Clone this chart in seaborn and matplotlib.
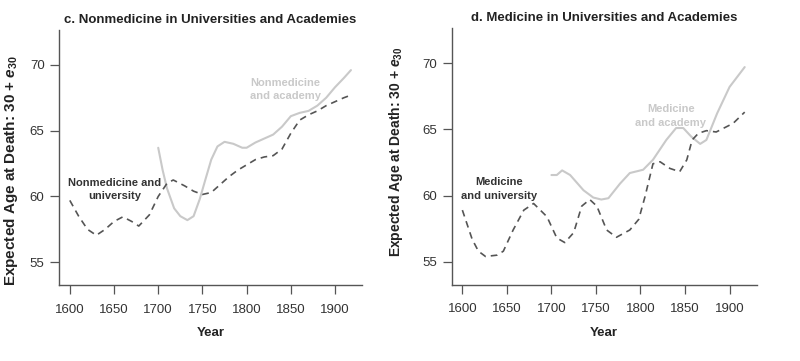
import seaborn as sns
import matplotlib.pyplot as plt
import pandas as pd

# panel c: nonmedicine
c_univ_year = [1600, 1610, 1620, 1630, 1640, 1650, 1660, 1670, 1678, 1690, 1700, 1710, 1717,
               1730, 1740, 1750, 1760, 1770, 1780, 1790, 1800, 1810, 1820, 1830, 1840, 1850,
               1860, 1870, 1880, 1890, 1900, 1910, 1918]
c_univ_age = [59.7, 58.5, 57.5, 57.05, 57.5, 58.1, 58.45, 58.1, 57.75, 58.6, 60.0, 61.0, 61.25,
              60.8, 60.4, 60.15, 60.3, 60.9, 61.5, 62.0, 62.4, 62.8, 63.0, 63.1, 63.6, 64.8,
              65.8, 66.2, 66.5, 66.9, 67.2, 67.5, 67.7]
c_acad_year = [1700, 1705, 1710, 1718, 1725, 1733, 1740, 1747, 1753, 1760, 1767, 1775, 1785,
               1795, 1800, 1810, 1820, 1830, 1840, 1850, 1860, 1870, 1880, 1890, 1900, 1910, 1918]
c_acad_age = [63.7, 62.0, 60.6, 59.1, 58.5, 58.2, 58.5, 59.8, 61.2, 62.8, 63.8, 64.15, 64.0,
              63.7, 63.7, 64.1, 64.4, 64.7, 65.3, 66.1, 66.35, 66.5, 66.9, 67.5, 68.3, 69.0, 69.6]

# panel d: medicine
d_univ_year = [1600, 1611, 1618, 1626, 1639, 1646, 1657, 1669, 1680, 1695, 1706, 1715, 1725,
               1734, 1743, 1751, 1762, 1773, 1788, 1798, 1805, 1814, 1822, 1833, 1844, 1852,
               1858, 1865, 1874, 1885, 1904, 1917]
d_univ_age = [58.9, 56.7, 55.8, 55.4, 55.5, 55.8, 57.4, 58.9, 59.4, 58.4, 56.8, 56.45, 57.2,
              59.2, 59.7, 59.2, 57.4, 56.85, 57.4, 58.2, 59.9, 62.4, 62.55, 62.05, 61.8, 62.7,
              64.2, 64.7, 64.9, 64.8, 65.45, 66.3]
d_acad_year = [1700, 1706, 1712, 1721, 1736, 1747, 1756, 1764, 1777, 1788, 1803, 1814, 1829,
               1840, 1848, 1857, 1867, 1874, 1886, 1900, 1917]
d_acad_age = [61.55, 61.55, 61.9, 61.55, 60.4, 59.85, 59.7, 59.8, 60.9, 61.7, 61.95, 62.7, 64.2,
              65.1, 65.1, 64.45, 63.9, 64.2, 66.2, 68.2, 69.7]

titles = ["c. Nonmedicine in Universities and Academies", "d. Medicine in Universities and Academies"]
univ_labels = ["Nonmedicine and\nuniversity", "Medicine\nand university"]
acad_labels = ["Nonmedicine\nand academy", "Medicine\nand academy"]
univ_label_pos = [(1651, 60.5), (1641, 60.5)]
acad_label_pos = [(1844, 68.1), (1834, 66.0)]

sns.set_style("ticks")
plt.rcParams['font.family'] = ['Liberation Sans', 'DejaVu Sans']
plt.rcParams['mathtext.fontset'] = 'custom'
plt.rcParams['mathtext.it'] = 'Liberation Sans:bold:italic'
plt.rcParams['mathtext.rm'] = 'Liberation Sans:bold'

fig = plt.figure(figsize=(8, 3.61), dpi=100)
ax_c = fig.add_axes([0.074, 0.2105, 0.3785, 0.7065])
ax_d = fig.add_axes([0.5646, 0.2114, 0.3813, 0.711])

panels = [
    (ax_c, c_univ_year, c_univ_age, c_acad_year, c_acad_age),
    (ax_d, d_univ_year, d_univ_age, d_acad_year, d_acad_age),
]
ylabel_xy = [(-0.128, 0.45), (-0.153, 0.517)]
ylabel_size = [11, 10]

for i, (ax, uy, ua, ay, aa) in enumerate(panels):
    univ = pd.DataFrame({"year": uy, "age": ua})
    acad = pd.DataFrame({"year": ay, "age": aa})
    sns.lineplot(data=acad, x="year", y="age", ax=ax, color="#c9c9c9", linewidth=1.5)
    sns.lineplot(data=univ, x="year", y="age", ax=ax, color="#555555", linewidth=1.2,
                 linestyle=(0, (4, 3)))
    ax.set_xlim(1588, 1930.5)
    ax.set_ylim(53.27, 72.65)
    ax.set_xticks([1600, 1650, 1700, 1750, 1800, 1850, 1900])
    ax.set_yticks([55, 60, 65, 70])
    ax.tick_params(labelsize=9.5, labelcolor="#333333", color="#555555", length=6.5, width=0.9)
    ax.tick_params(axis="x", pad=7)
    ax.tick_params(axis="y", pad=4)
    for s in ["left", "bottom"]:
        ax.spines[s].set_color("#555555")
        ax.spines[s].set_linewidth(1.0)
    sns.despine(ax=ax)
    ax.set_title(titles[i], fontsize=9.5, fontweight="bold", color="#222222", pad=5)
    ax.set_xlabel("Year", fontsize=9.5, fontweight="bold", color="#222222", labelpad=8)
    ax.set_ylabel(r"Expected Age at Death: 30 + $\it{e}_{30}$", fontsize=ylabel_size[i],
                  fontweight="bold", color="#222222")
    ax.yaxis.set_label_coords(*ylabel_xy[i])
    ax.text(*univ_label_pos[i], univ_labels[i], ha="center", va="center", fontsize=8,
            fontweight="bold", color="#333333", linespacing=1.4)
    ax.text(*acad_label_pos[i], acad_labels[i], ha="center", va="center", fontsize=8,
            fontweight="bold", color="#c9c9c9", linespacing=1.4)

fig.savefig("out.png", dpi=100)
